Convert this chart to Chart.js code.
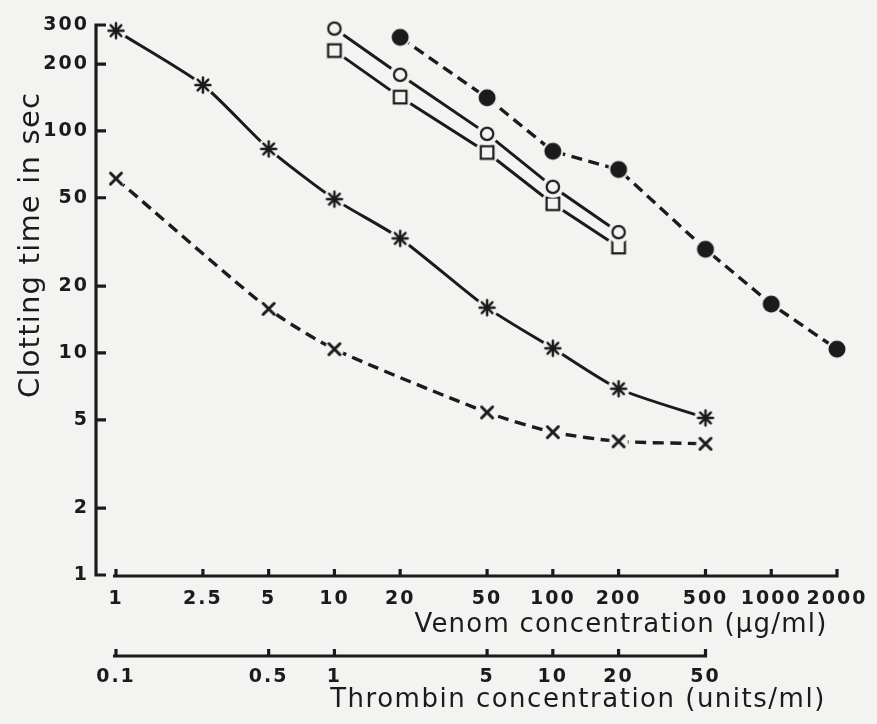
<!DOCTYPE html>
<html>
<head>
<meta charset="utf-8">
<script src="https://cdn.jsdelivr.net/npm/chart.js"></script>
<style> html, body { margin: 0; padding: 0; background: #f3f3f1; } canvas { display: block; } </style>
</head>
<body>
<canvas id="clot" width="877" height="724"></canvas>
<script>
    // tick values of the three axes
    const venomTicks = [1, 2.5, 5, 10, 20, 50, 100, 200, 500, 1000, 2000];
    const thrombinTicks = [0.1, 0.5, 1, 5, 10, 20, 50];
    const timeTicks = [1, 2, 5, 10, 20, 50, 100, 200, 300];

    // clotting times (sec) against venom concentration (ug/ml)
    const starDose = [1, 2.5, 5, 10, 20, 50, 100, 200, 500];
    const starTime = [283, 161, 83, 49.3, 32.8, 16.0, 10.5, 6.9, 5.1];

    const crossDose = [1, 5, 10, 50, 100, 200, 500];
    const crossTime = [61, 15.8, 10.4, 5.4, 4.4, 4.0, 3.9];

    const ringDose = [10, 20, 50, 100, 200];
    const ringTime = [289, 179, 97, 56, 35];

    const squareDose = [10, 20, 50, 100, 200];
    const squareTime = [230, 142, 80, 47, 30];

    const dotDose = [20, 50, 100, 200, 500, 1000, 2000];
    const dotTime = [264, 141, 81, 67, 29.3, 16.6, 10.4];

    const INK = '#1b1b1b';
    const PAPER = '#f3f3f1';

    const pts = (xs, ys) => xs.map((x, i) => ({ x: x, y: ys[i] }));

    // point symbols with a paper-coloured halo so the lines stop short of them
    function marker(kind) {
        const c = document.createElement('canvas');
        c.width = c.height = 28;
        const g = c.getContext('2d');
        const m = 14;
        const halo = { star: 11, cross: 9.5, ring: 11, square: 12, dot: 10.5 }[kind];
        g.fillStyle = PAPER;
        g.beginPath(); g.arc(m, m, halo, 0, Math.PI * 2); g.fill();
        g.strokeStyle = INK; g.fillStyle = INK; g.lineCap = 'round';
        if (kind === 'star') {
            g.lineWidth = 2.5;
            for (let k = 0; k < 4; k++) {
                const a = k * Math.PI / 4;
                g.beginPath();
                g.moveTo(m - 7.5 * Math.cos(a), m - 7.5 * Math.sin(a));
                g.lineTo(m + 7.5 * Math.cos(a), m + 7.5 * Math.sin(a));
                g.stroke();
            }
        } else if (kind === 'cross') {
            g.lineWidth = 3;
            g.beginPath();
            g.moveTo(m - 5.5, m - 5.5); g.lineTo(m + 5.5, m + 5.5);
            g.moveTo(m + 5.5, m - 5.5); g.lineTo(m - 5.5, m + 5.5);
            g.stroke();
        } else if (kind === 'ring') {
            g.lineWidth = 2.2;
            g.beginPath(); g.arc(m, m, 6.2, 0, Math.PI * 2); g.stroke();
        } else if (kind === 'square') {
            g.lineWidth = 2.2;
            g.strokeRect(m - 6.3, m - 6.3, 12.6, 12.6);
        } else {
            g.beginPath(); g.arc(m, m, 8.5, 0, Math.PI * 2); g.fill();
        }
        return c;
    }

    function series(data, kind, dashed, curved) {
        return {
            data: data,
            borderColor: INK,
            borderWidth: dashed ? 3.4 : 3,
            borderDash: dashed ? [11, 6.5] : [],
            tension: curved ? 0.22 : 0,
            pointStyle: marker(kind),
            pointRadius: 8,
            fill: false,
            clip: false
        };
    }

    // axis lines with short inward ticks, and the three axis titles
    const axesDecor = {
        id: 'axesDecor',
        afterDraw(chart) {
            const ctx = chart.ctx;
            const y = chart.scales.y, x = chart.scales.x, t = chart.scales.x2;
            ctx.save();
            ctx.strokeStyle = INK;
            ctx.lineWidth = 3.2;
            ctx.lineCap = 'butt';

            const ax = y.right;
            ctx.beginPath();
            ctx.moveTo(ax, y.getPixelForValue(300) - 1.6);
            ctx.lineTo(ax, y.getPixelForValue(1) + 1.6);
            timeTicks.forEach(v => {
                const py = y.getPixelForValue(v);
                ctx.moveTo(ax, py); ctx.lineTo(ax + 10, py);
            });
            ctx.stroke();

            const vy = x.top + 1;
            ctx.beginPath();
            ctx.moveTo(x.getPixelForValue(1) - 3, vy);
            ctx.lineTo(x.getPixelForValue(2000) + 1.6, vy);
            venomTicks.forEach(v => {
                const px = x.getPixelForValue(v);
                ctx.moveTo(px, vy); ctx.lineTo(px, vy - 7);
            });
            ctx.stroke();

            const ty = t.top + 16;
            ctx.beginPath();
            ctx.moveTo(t.getPixelForValue(0.1) - 3, ty);
            ctx.lineTo(t.getPixelForValue(50) + 1.6, ty);
            thrombinTicks.forEach(v => {
                const px = t.getPixelForValue(v);
                ctx.moveTo(px, ty); ctx.lineTo(px, ty - 7);
            });
            ctx.stroke();

            ctx.fillStyle = INK;
            ctx.textBaseline = 'alphabetic';
            ctx.textAlign = 'center';
            ctx.font = '26px "DejaVu Sans"';
            ctx.letterSpacing = '1.2px';
            ctx.fillText('Venom concentration (\u00b5g/ml)', 621, 632);
            ctx.letterSpacing = '1.5px';
            ctx.fillText('Thrombin concentration (units/ml)', 578, 707);

            ctx.font = '29px "DejaVu Sans"';
            ctx.letterSpacing = '1.2px';
            ctx.translate(39, 245);
            ctx.rotate(-Math.PI / 2);
            ctx.fillText('Clotting time in sec', 0, 0);
            ctx.restore();
        }
    };

    // wider tracking for the tick numbers
    const spacing = {
        id: 'spacing',
        beforeDraw(chart) { chart.ctx.letterSpacing = '2px'; },
        afterDatasetsDraw(chart) { chart.ctx.letterSpacing = '0px'; }
    };

    const tickFont = { family: 'DejaVu Sans', size: 19, weight: 'bold' };

    new Chart(document.getElementById('clot'), {
        type: 'line',
        data: {
            datasets: [
                series(pts(starDose, starTime), 'star', false, true),
                series(pts(crossDose, crossTime), 'cross', true, true),
                series(pts(ringDose, ringTime), 'ring', false, false),
                series(pts(squareDose, squareTime), 'square', false, false),
                series(pts(dotDose, dotTime), 'dot', true, false)
            ]
        },
        options: {
            responsive: false,
            animation: false,
            layout: { padding: { top: 25, right: 40, left: 0, bottom: 0 } },
            plugins: { legend: { display: false }, tooltip: { enabled: false } },
            scales: {
                x: {
                    type: 'logarithmic',
                    position: 'bottom',
                    weight: 0,
                    bounds: 'data',
                    min: 0.81, max: 2000,
                    grid: { display: false, drawTicks: false },
                    border: { display: false },
                    ticks: { autoSkip: false, maxRotation: 0, padding: 13, color: INK, font: tickFont,
                             callback: v => String(v) },
                    afterBuildTicks: s => { s.ticks = venomTicks.map(v => ({ value: v })); },
                    afterFit: s => { s.height = 65; }
                },
                x2: {
                    type: 'logarithmic',
                    position: 'bottom',
                    weight: 1,
                    bounds: 'data',
                    min: 0.081, max: 200,
                    grid: { display: false, drawTicks: false },
                    border: { display: false },
                    ticks: { autoSkip: false, maxRotation: 0, padding: 26, color: INK, font: tickFont,
                             callback: v => String(v) },
                    afterBuildTicks: s => { s.ticks = thrombinTicks.map(v => ({ value: v })); },
                    afterFit: s => { s.height = 84; }
                },
                y: {
                    type: 'logarithmic',
                    position: 'left',
                    bounds: 'data',
                    min: 1, max: 300,
                    grid: { display: false, drawTicks: false },
                    border: { display: false },
                    ticks: { autoSkip: false, padding: 7, color: INK, font: tickFont,
                             callback: v => String(v) },
                    afterBuildTicks: s => { s.ticks = timeTicks.map(v => ({ value: v })); },
                    afterFit: s => { s.width = 96; }
                }
            }
        },
        plugins: [spacing, axesDecor]
    });
</script>
</body>
</html>
